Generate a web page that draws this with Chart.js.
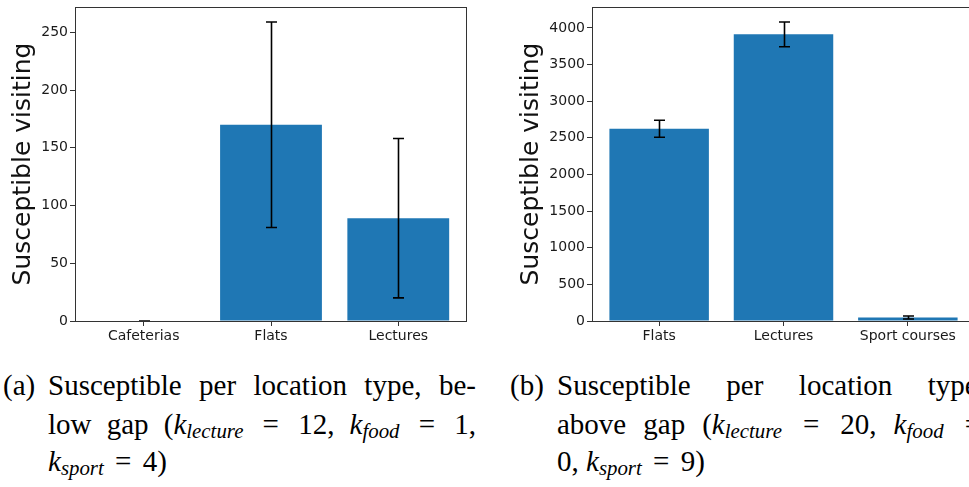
<!DOCTYPE html>
<html>
<head>
<meta charset="utf-8">
<script src="https://cdn.jsdelivr.net/npm/chart.js@4.4.0/dist/chart.umd.min.js"></script>
<style>
  html, body { margin: 0; padding: 0; background: #fff; }
  #page { position: relative; width: 969px; height: 487px; overflow: hidden; }
  canvas { position: absolute; top: 0; }
  #chartA { left: 0; }
  #chartB { left: 490px; }
  .cap { position: absolute; font-family: "Liberation Serif", serif; font-size: 29px; line-height: 1; color: #000; white-space: nowrap; }
  .line { width: 428px; }
  .just { white-space: normal; text-align: justify; text-align-last: justify; }
  .cap sub { font-size: 0.72em; vertical-align: -0.2em; line-height: 0; }
  .rel { display: inline-block; margin: 0 4px; }
</style>
</head>
<body>
<div id="page">
  <canvas id="chartA" width="484" height="350" style="width:484px;height:350px"></canvas>
  <canvas id="chartB" width="490" height="350" style="width:490px;height:350px"></canvas>

  <div class="cap" style="left:3px; top:371px;">(a)</div>
  <div class="cap line just" style="left:48px; top:371px;">Susceptible per location type, be-</div>
  <div class="cap line just" style="left:48px; top:410px;">low gap (<i>k<sub>lecture</sub></i>&nbsp;<span class="rel">=</span>&nbsp;12, <i>k<sub>food</sub></i>&nbsp;<span class="rel">=</span>&nbsp;1,</div>
  <div class="cap line" style="left:48px; top:447px;"><i>k<sub>sport</sub></i> <span class="rel">=</span> 4)</div>

  <div class="cap" style="left:510px; top:371px;">(b)</div>
  <div class="cap line just" style="left:557px; top:371px;">Susceptible per location type,</div>
  <div class="cap line just" style="left:557px; top:410px;">above gap (<i>k<sub>lecture</sub></i>&nbsp;<span class="rel">=</span>&nbsp;20, <i>k<sub>food</sub></i>&nbsp;<span class="rel">=</span></div>
  <div class="cap line" style="left:557px; top:447px;">0, <i>k<sub>sport</sub></i> <span class="rel">=</span> 9)</div>
</div>
<script>
// below gap
const catsA = ["Cafeterias", "Flats", "Lectures"];
const meanA = [0, 170, 89];
const errA = [0, 89, 69];
const yTicksA = [0, 50, 100, 150, 200, 250];

// above gap
const catsB = ["Flats", "Lectures", "Sport courses"];
const meanB = [2625, 3913, 48];
const errB = [116, 169, 20];
const yTicksB = [0, 500, 1000, 1500, 2000, 2500, 3000, 3500, 4000];

const BLUE = "#1f77b4";
const INK = "#1a1a1a";

// black error bars with caps, drawn over the bars
const errorBars = {
  id: "errorBars",
  afterDatasetsDraw(chart) {
    const { ctx, scales: { x, y } } = chart;
    const ds = chart.data.datasets[0];
    ctx.save();
    ctx.strokeStyle = "#000";
    ctx.lineWidth = 1.6;
    ds.data.forEach((p, i) => {
      const e = ds.errors[i];
      const px = Math.round(x.getPixelForValue(p.x)) + 0.5;
      const top = y.getPixelForValue(p.y + e);
      const bot = y.getPixelForValue(p.y - e);
      ctx.beginPath();
      ctx.moveTo(px, top); ctx.lineTo(px, bot);
      ctx.moveTo(px - 5.5, top); ctx.lineTo(px + 5.5, top);
      ctx.moveTo(px - 5.5, bot); ctx.lineTo(px + 5.5, bot);
      ctx.stroke();
    });
    ctx.restore();
  }
};

// axes box on all four sides
const frame = {
  id: "frame",
  afterDraw(chart) {
    const { ctx, chartArea: a } = chart;
    ctx.save();
    ctx.strokeStyle = "#333";
    ctx.lineWidth = 1;
    const l = Math.round(a.left) + 0.5, t = Math.round(a.top) + 0.5;
    const r = Math.round(a.right) - 0.5, b = Math.round(a.bottom) + 0.5;
    ctx.strokeRect(l, t, r - l, b - t);
    ctx.restore();
  }
};

function makeChart(id, cats, means, errs, yTicks, yMax, box) {
  const tickFont = { family: "DejaVu Sans", size: 14 };
  return new Chart(document.getElementById(id), {
    type: "bar",
    data: {
      datasets: [{
        data: means.map((v, i) => ({ x: i, y: v })),
        errors: errs,
        backgroundColor: BLUE,
        borderWidth: 0,
        barPercentage: 0.8,
        categoryPercentage: 1
      }]
    },
    options: {
      responsive: false,
      animation: false,
      layout: { padding: { top: 7, right: box.padRight, left: 0, bottom: 0 } },
      plugins: { legend: { display: false }, tooltip: { enabled: false } },
      scales: {
        x: {
          type: "linear",
          min: -0.54,
          max: 2.54,
          offset: false,
          afterBuildTicks: (s) => { s.ticks = cats.map((c, i) => ({ value: i })); },
          afterFit: (s) => { s.height = 29; s.paddingLeft = 0; s.paddingRight = 0; },
          ticks: {
            callback: (v) => cats[v],
            autoSkip: false,
            maxRotation: 0,
            font: tickFont,
            color: INK,
            padding: 2
          },
          grid: { display: true, drawOnChartArea: false, drawTicks: true, tickLength: 5, color: "#333", offset: false },
          border: { display: false }
        },
        y: {
          min: 0,
          max: yMax,
          afterBuildTicks: (s) => { s.ticks = yTicks.map((v) => ({ value: v })); },
          afterFit: (s) => { s.width = box.axisWidth; s.paddingTop = 0; s.paddingBottom = 0; },
          ticks: { callback: (v) => String(v), font: tickFont, color: INK, padding: 2 },
          grid: { display: true, drawOnChartArea: false, drawTicks: true, tickLength: 5, color: "#333" },
          border: { display: false },
          title: {
            display: true,
            text: "Susceptible visiting",
            font: { family: "DejaVu Sans", size: 25, lineHeight: 1 },
            color: "#111",
            padding: { top: box.titlePad, bottom: 0 }
          }
        }
      }
    },
    plugins: [frame, errorBars]
  });
}

// y range follows the tallest error bar plus a 5% margin
const yMaxA = (meanA[1] + errA[1]) * 1.05;
const yMaxB = (meanB[1] + errB[1]) * 1.05;

makeChart("chartA", catsA, meanA, errA, yTicksA, yMaxA, { axisWidth: 75, titlePad: 10.5, padRight: 17 });
makeChart("chartB", catsB, meanB, errB, yTicksB, yMaxB, { axisWidth: 102, titlePad: 28.5, padRight: 5 });
</script>
</body>
</html>
